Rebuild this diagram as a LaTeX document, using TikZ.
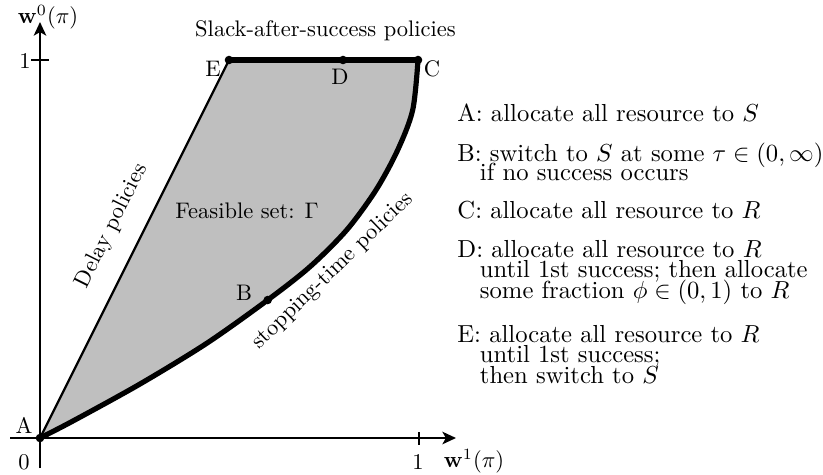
\documentclass[tikz,border=0pt]{standalone}
\usetikzlibrary{arrows.meta}
\begin{document}
\begin{tikzpicture}[x=0.4444pt,y=-0.4444pt,
  dot/.style={circle,fill=black,inner sep=0pt,minimum size=3.8pt},
  axis/.style={line width=1.2pt,-{Stealth[length=6pt,width=5.5pt,inset=1.5pt]}},
  bound/.style={line width=2.3pt,line cap=round,line join=round},
  thinbound/.style={line width=1pt},
  lbl/.style={inner sep=0pt,font=\fontsize{10}{12}\selectfont},
  desc/.style={inner sep=0pt,anchor=base west,font=\fontsize{10.95}{9}\selectfont}]
\useasboundingbox (0,0) rectangle (823,474);
\def\curvepts{(40,438) (73.3,420.8) (140,384) (206.7,343.3) (267.7,300) (310,266.7) (346.7,230) (376,190) (397.7,150) (412.7,110) (418,60)}
% feasible region
\fill[black!25] plot[smooth,tension=0.5] coordinates {\curvepts} -- (229,60) -- cycle;
% points
\coordinate (pA) at (40,438);
\coordinate (pB) at (267.7,300);
\coordinate (pC) at (418,60);
\coordinate (pD) at (343,60);
\coordinate (pE) at (229,60);
% boundaries
\draw[thinbound] (pA) -- (pE);
\draw[bound] plot[smooth,tension=0.5] coordinates {\curvepts};
\draw[bound] (pE) -- (pC);
% axes
\coordinate (xs) at (10,438);
\coordinate (xe) at (456,438);
\coordinate (ys) at (40,468);
\coordinate (ye) at (40,22);
\draw[axis] (xs) -- (xe);
\draw[axis] (ys) -- (ye);
\coordinate (xt1) at (419,432);
\coordinate (xt2) at (419,445);
\coordinate (yt1) at (31,60);
\coordinate (yt2) at (49,60);
\draw[line width=1.2pt] (xt1) -- (xt2);
\draw[line width=1.2pt] (yt1) -- (yt2);
% dots
\node[dot] (A) at (pA) {};
\node[dot] (B) at (pB) {};
\node[dot] (C) at (pC) {};
\node[dot] (D) at (pD) {};
\node[dot] (E) at (pE) {};
% point labels
\node[lbl] (lA) at (24,425) {A};
\node[lbl] (lB) at (244,293) {B};
\node[lbl] (lC) at (432,69) {C};
\node[lbl] (lD) at (340,77) {D};
\node[lbl] (lE) at (213,69) {E};
% axis labels
\node[lbl] (l0) at (24,462) {0};
\node[lbl] (lx1) at (418,462) {1};
\node[lbl] (ly1) at (25,61) {1};
\node[lbl] (lw1) at (474,461) {$\mathbf{w}^1(\pi)$};
\node[lbl] (lw0) at (48,17) {$\mathbf{w}^0(\pi)$};
% region labels
\node[lbl,anchor=base] (slack) at (325.5,36) {Slack-after-success policies};
\node[lbl,anchor=base] (feas) at (247,218) {Feasible set: $\Gamma$};
\node[lbl,rotate=63.4] (delay) at (112,226) {Delay policies};
\node[lbl,rotate=44] (stop) at (333,271) {stopping-time policies};
% descriptions
\node[desc] (dA) at (457,121.7) {A: allocate all resource to $S$};
\node[desc] (dB1) at (457,161) {B: switch to $S$ at some $\tau\in(0,\infty)$};
\node[desc] (dB2) at (479.5,180.7) {if no success occurs};
\node[desc] (dC) at (457,218.3) {C: allocate all resource to $R$};
\node[desc] (dD1) at (457,257.7) {D: allocate all resource to $R$};
\node[desc] (dD2) at (479.5,277.7) {until 1st success; then allocate};
\node[desc] (dD3) at (479.5,298.3) {some fraction $\phi\in(0,1)$ to $R$};
\node[desc] (dE1) at (457,342) {E: allocate all resource to $R$};
\node[desc] (dE2) at (479.5,362.5) {until 1st success;};
\node[desc] (dE3) at (479.5,383) {then switch to $S$};
\end{tikzpicture}
\end{document}
